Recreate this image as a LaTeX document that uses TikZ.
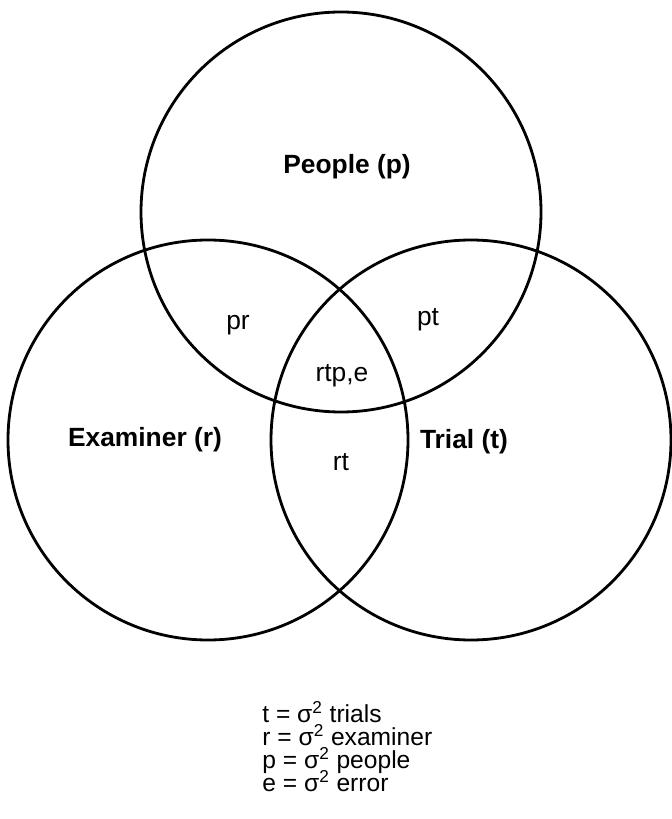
\documentclass[tikz,border=0pt]{standalone}
\usepackage{fontspec}
\setmainfont{Liberation Sans}
\usepackage{tikz}
\usetikzlibrary{positioning}

\begin{document}
\begin{tikzpicture}[
    setcircle/.style={draw, circle, minimum size=8cm, inner sep=0pt, line width=1.6pt},
    setname/.style={font=\fontsize{15}{18}\selectfont\bfseries},
    region/.style={font=\fontsize{15}{18}\selectfont},
    legend/.style={align=left, anchor=west, inner sep=0pt,
        font=\fontsize{14}{13}\selectfont,
        execute at begin node={\lineskiplimit=-20pt\relax}}
]
    \useasboundingbox (0,0) rectangle (13.42,-16.38);

    % Venn circles
    \node[setcircle] (people) at (6.82, -4.24) {};
    \node[setcircle] (examiner) at (4.16, -8.80) {};
    \node[setcircle] (trial) at (9.42, -8.80) {};

    % Set names
    \node[setname] (peoplename) at (6.94, -3.34) {People (p)};
    \node[setname] (examinername) at (2.90, -8.80) {Examiner (r)};
    \node[setname] (trialname) at (9.28, -8.84) {Trial (t)};

    % Overlaps
    \node[region] (pr) at (4.76, -6.50) {pr};
    \node[region] (pt) at (8.56, -6.40) {pt};
    \node[region] (rtpe) at (6.84, -7.52) {rtp,e};
    \node[region] (rt) at (6.82, -9.24) {rt};

    % Legend
    \node[legend] (key) at (5.24, -14.93) {
        t = σ\textsuperscript{2} trials\\
        r = σ\textsuperscript{2} examiner\\
        p = σ\textsuperscript{2} people\\
        e = σ\textsuperscript{2} error
    };
\end{tikzpicture}
\end{document}
